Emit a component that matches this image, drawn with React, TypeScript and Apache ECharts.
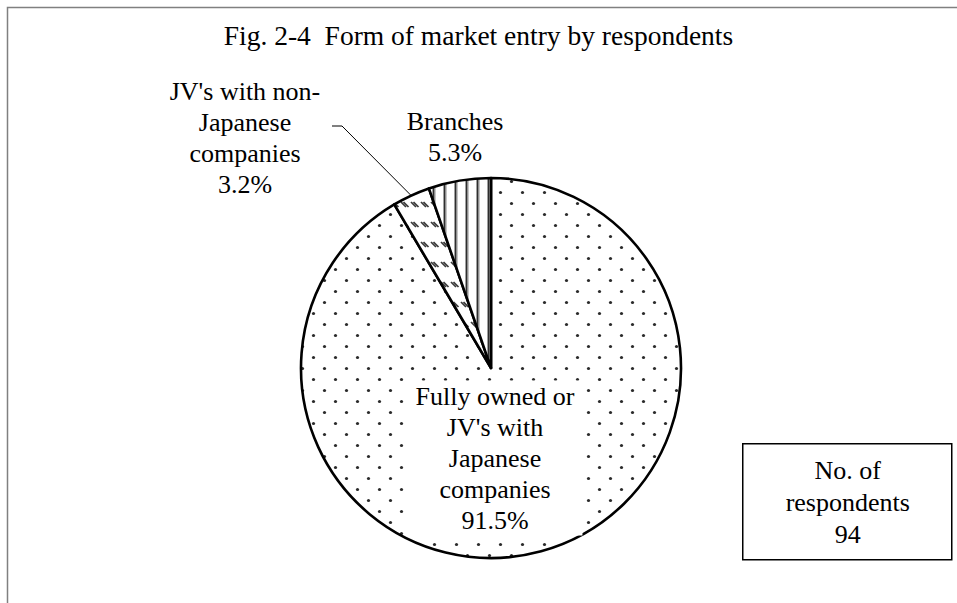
import React, { useEffect, useRef } from "react";
import * as echarts from "echarts";

const chartTitle = "Fig. 2-4  Form of market entry by respondents";
const categories = [
  "Fully owned or\nJV's with\nJapanese\ncompanies",
  "JV's with non-\nJapanese\ncompanies",
  "Branches",
];
const shares = [91.5, 3.2, 5.3];
const respondents = 94;
const respondentsLabel = "No. of\nrespondents";

const FONT = "'Liberation Serif', 'Times New Roman', Times, serif";

function makeCanvas(w: number, h: number) {
  const c = document.createElement("canvas");
  c.width = w;
  c.height = h;
  const ctx = c.getContext("2d")!;
  ctx.fillStyle = "#ffffff";
  ctx.fillRect(0, 0, w, h);
  return { c, ctx };
}

function dotsPattern() {
  const { c, ctx } = makeCanvas(22, 22);
  ctx.fillStyle = "#2a2a2a";
  ctx.beginPath();
  ctx.arc(5.5, 5.5, 1.6, 0, Math.PI * 2);
  ctx.fill();
  ctx.beginPath();
  ctx.arc(16.5, 16.5, 1.6, 0, Math.PI * 2);
  ctx.fill();
  return { image: c, repeat: "repeat", imageWidth: 22, imageHeight: 22 };
}

function stripesPattern() {
  const { c, ctx } = makeCanvas(11, 11);
  ctx.fillStyle = "#a0a0a0";
  ctx.fillRect(3, 0, 1, 11);
  ctx.fillStyle = "#2e2e2e";
  ctx.fillRect(4, 0, 1.6, 11);
  ctx.fillStyle = "#a0a0a0";
  ctx.fillRect(5.6, 0, 1, 11);
  return { image: c, repeat: "repeat", imageWidth: 11, imageHeight: 11 };
}

function dashesPattern() {
  const { c, ctx } = makeCanvas(10, 20);
  ctx.strokeStyle = "#3a3a3a";
  ctx.lineWidth = 1.7;
  ctx.beginPath();
  ctx.moveTo(1, 2);
  ctx.lineTo(6, 7);
  ctx.stroke();
  ctx.beginPath();
  ctx.moveTo(3.5, 2);
  ctx.lineTo(8.5, 7);
  ctx.stroke();
  return { image: c, repeat: "repeat", imageWidth: 10, imageHeight: 20 };
}

const labelPositions = [
  { x: 495, y: 458 },
  { x: 245, y: 138 },
  { x: 455, y: 137 },
];

export default function App() {
  const ref = useRef<HTMLDivElement>(null);

  useEffect(() => {
    if (!ref.current) return;
    const chart = echarts.init(ref.current, null, { renderer: "svg" });
    const patterns = [dotsPattern(), dashesPattern(), stripesPattern()];

    const baseLabel = {
      fontFamily: FONT,
      fontSize: 26,
      lineHeight: 31,
      color: "#000",
      align: "center",
      formatter: (p: any) => `${p.name}\n${p.value}%`,
    };

    const option: any = {
      animation: false,
      backgroundColor: "#ffffff",
      title: {
        text: chartTitle,
        left: "center",
        top: 16,
        textStyle: {
          fontFamily: FONT,
          fontSize: 27.5,
          fontWeight: "normal",
          color: "#000",
        },
      },
      graphic: [
        {
          type: "rect",
          shape: { x: 7.5, y: 7.5, width: 1200, height: 1200 },
          style: { fill: "none", stroke: "#808080", lineWidth: 1.5 },
          silent: true,
        },
        {
          type: "group",
          left: 742,
          top: 443,
          children: [
            {
              type: "rect",
              shape: { x: 0, y: 0, width: 209, height: 116 },
              style: { fill: "#fff", stroke: "#000", lineWidth: 1.5 },
            },
            {
              type: "text",
              x: 105,
              y: 59,
              style: {
                text: `${respondentsLabel}\n${respondents}`,
                fontFamily: FONT,
                fontSize: 26,
                lineHeight: 32,
                fill: "#000",
                align: "center",
                verticalAlign: "middle",
              },
            },
          ],
        },
      ],
      series: [
        {
          type: "pie",
          center: [491, 368],
          radius: 190,
          startAngle: 90,
          clockwise: true,
          avoidLabelOverlap: false,
          itemStyle: { borderColor: "#000", borderWidth: 2.6 },
          emphasis: { disabled: true },
          labelLayout: (params: any) => {
            const pos = labelPositions[params.dataIndex];
            const out: any = { x: pos.x, y: pos.y, align: "center", verticalAlign: "middle" };
            if (params.dataIndex === 1 && params.labelLinePoints) {
              const anchor = params.labelLinePoints[0];
              out.labelLinePoints = [
                anchor,
                [pos.x + 97, pos.y - 12],
                [pos.x + 87, pos.y - 12],
              ];
            }
            return out;
          },
          data: categories.map((name, i) => ({
            name,
            value: shares[i],
            itemStyle: { color: patterns[i] },
            label:
              i === 0
                ? { ...baseLabel, position: "inside", backgroundColor: "#fff", padding: [0, 8] }
                : { ...baseLabel, position: "outside" },
            labelLine:
              i === 1
                ? { show: true, length: 10, length2: 10, lineStyle: { color: "#000", width: 1 } }
                : { show: false },
          })),
        },
      ],
    };
    chart.setOption(option);
    return () => chart.dispose();
  }, []);

  return (
    <div
      ref={ref}
      style={{ position: "fixed", left: 0, top: 0, width: 957, height: 603 }}
    />
  );
}
